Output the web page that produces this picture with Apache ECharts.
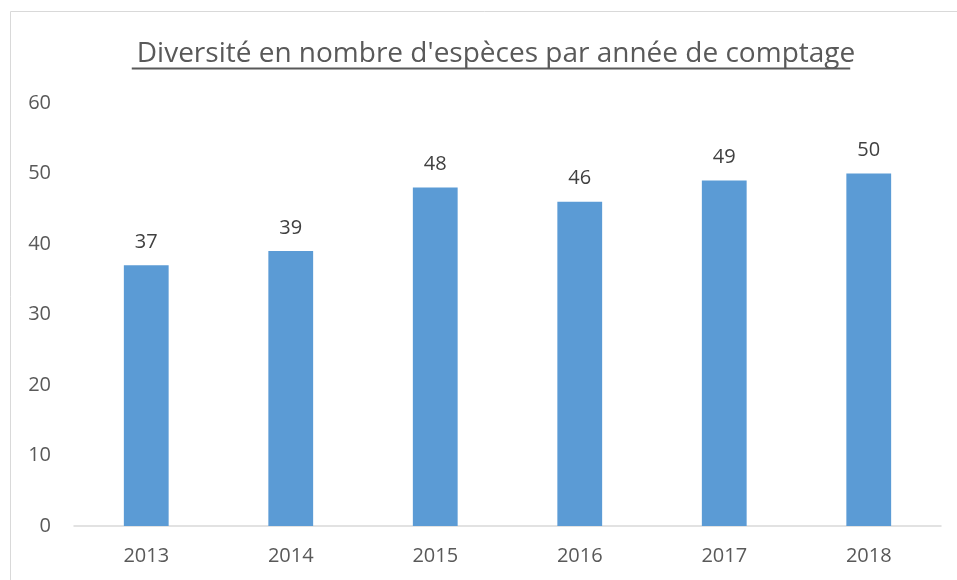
<!DOCTYPE html>
<html>
<head>
<meta charset="utf-8">
<script src="https://cdn.jsdelivr.net/npm/echarts@6/dist/echarts.min.js"></script>
<style>
  html, body { margin: 0; padding: 0; background: #fff; }
  #chart { width: 957px; height: 580px; }
</style>
</head>
<body>
<div id="chart"></div>
<script>
// données
var annees = ['2013', '2014', '2015', '2016', '2017', '2018'];
var especes = [37, 39, 48, 46, 49, 50];
var titre = "Diversité en nombre d'espèces par année de comptage";

var fontFamily = '"Open Sans", "Noto Sans", sans-serif';
var titleSize = 28;

// largeur du titre pour placer le soulignement
var ctx = document.createElement('canvas').getContext('2d');
ctx.font = titleSize + 'px ' + fontFamily;
var tw = ctx.measureText(titre).width;
var titleCx = 491;

var myChart = echarts.init(document.getElementById('chart'));
myChart.setOption({
  animation: false,
  title: {
    text: titre,
    left: titleCx - tw / 2,
    top: 35,
    textStyle: { fontFamily: fontFamily, fontSize: titleSize, fontWeight: 'normal', color: '#595959' }
  },
  graphic: [
    {
      type: 'rect',
      shape: { x: 10.5, y: 11.5, width: 980, height: 620 },
      style: { fill: null, stroke: '#d9d9d9', lineWidth: 1 },
      silent: true
    },
    {
      type: 'line',
      shape: { x1: titleCx - tw / 2, y1: 68.5, x2: titleCx + tw / 2, y2: 68.5 },
      style: { stroke: '#595959', lineWidth: 2 },
      silent: true
    }
  ],
  grid: { left: 74, right: 16, top: 103, bottom: 54 },
  xAxis: {
    type: 'category',
    data: annees,
    axisLine: { lineStyle: { color: '#d9d9d9', width: 1.5 } },
    axisTick: { show: false },
    axisLabel: { color: '#595959', fontSize: 20, fontFamily: fontFamily, margin: 20 }
  },
  yAxis: {
    type: 'value',
    min: 0,
    max: 60,
    interval: 10,
    splitLine: { show: false },
    axisLine: { show: false },
    axisTick: { show: false },
    axisLabel: { color: '#595959', fontSize: 20, fontFamily: fontFamily, margin: 23 }
  },
  series: [{
    type: 'bar',
    data: especes,
    barWidth: '31%',
    itemStyle: { color: '#5b9bd5' },
    label: {
      show: true,
      position: 'top',
      distance: 13,
      color: '#404040',
      fontSize: 20,
      fontFamily: fontFamily
    }
  }]
});
</script>
</body>
</html>
